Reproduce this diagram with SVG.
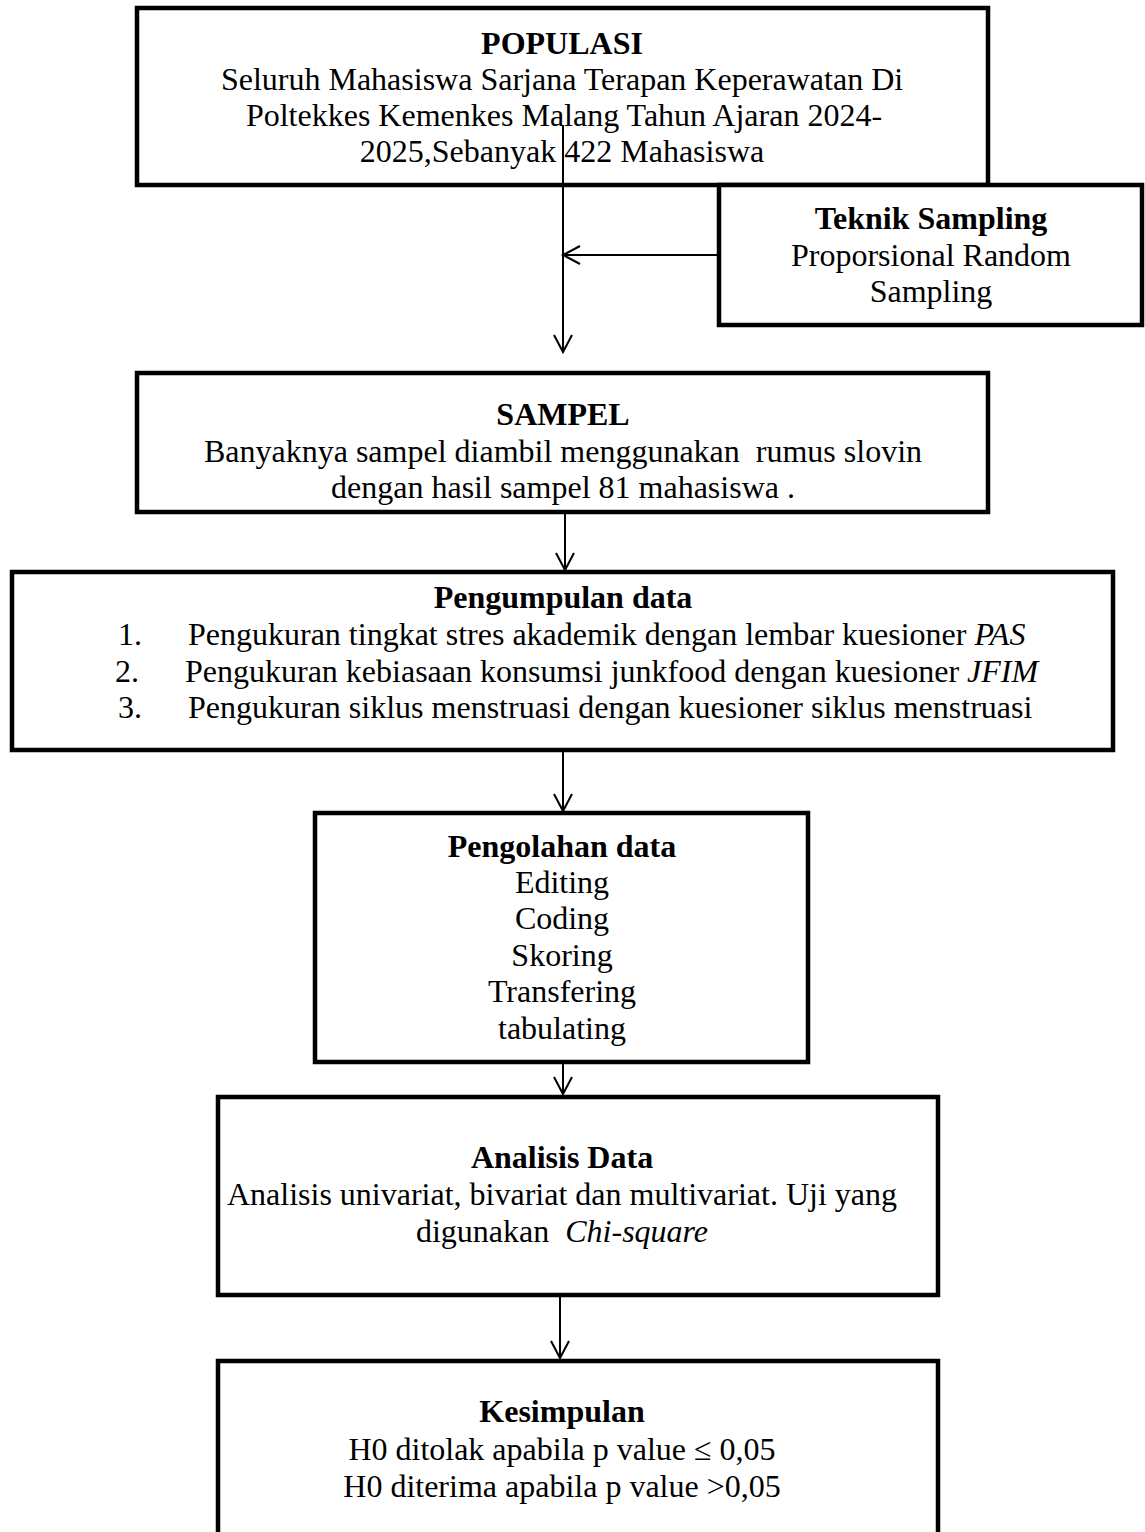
<svg xmlns="http://www.w3.org/2000/svg" width="1145" height="1532" viewBox="0 0 1145 1532">
<style>
.box{fill:#fff;stroke:#000;stroke-width:4.5}
text{font-family:"Liberation Serif","Times New Roman",serif;font-size:32px;fill:#000;white-space:pre}
.c{text-anchor:middle}
.b{font-weight:bold}
.i{font-style:italic}
.con{stroke:#000;stroke-width:2;fill:none}
</style>
<defs>
<marker id="arr" markerUnits="userSpaceOnUse" markerWidth="24" markerHeight="24" viewBox="-20 -12 24 24" refX="0" refY="0" orient="auto">
<path d="M -17 -9 L 0 0 L -17 9" fill="none" stroke="#000" stroke-width="2"/>
</marker>
</defs>
<rect width="1145" height="1532" fill="#fff"/>
<g id="populasi">
<rect class="box" x="137" y="8" width="851" height="177"/>
<text class="c b" x="562" y="54">POPULASI</text>
<text class="c" x="562" y="90">Seluruh Mahasiswa Sarjana Terapan Keperawatan Di</text>
<text class="c" x="564" y="126">Poltekkes Kemenkes Malang Tahun Ajaran 2024-</text>
<text class="c" x="562" y="162">2025,Sebanyak 422 Mahasiswa</text>
</g>
<g id="teknik">
<rect class="box" x="719" y="185" width="423" height="140"/>
<text class="c b" x="931" y="229">Teknik Sampling</text>
<text class="c" x="931" y="266">Proporsional Random</text>
<text class="c" x="931" y="302">Sampling</text>
</g>
<g id="sampel">
<rect class="box" x="137" y="373" width="851" height="139"/>
<text class="c b" x="563" y="425">SAMPEL</text>
<text class="c" x="563" y="462">Banyaknya sampel diambil menggunakan  rumus slovin</text>
<text class="c" x="563" y="498">dengan hasil sampel 81 mahasiswa .</text>
</g>
<g id="pengumpulan">
<rect class="box" x="12" y="572" width="1101" height="178"/>
<text class="c b" x="563" y="608">Pengumpulan data</text>
<text x="118" y="645">1.</text>
<text x="188" y="645">Pengukuran tingkat stres akademik dengan lembar kuesioner <tspan class="i">PAS</tspan></text>
<text x="115" y="682">2.</text>
<text x="185" y="682">Pengukuran kebiasaan konsumsi junkfood dengan kuesioner <tspan class="i">JFIM</tspan></text>
<text x="118" y="718">3.</text>
<text x="188" y="718">Pengukuran siklus menstruasi dengan kuesioner siklus menstruasi</text>
</g>
<g id="pengolahan">
<rect class="box" x="315" y="813" width="493" height="249"/>
<text class="c b" x="562" y="857">Pengolahan data</text>
<text class="c" x="562" y="893">Editing</text>
<text class="c" x="562" y="929">Coding</text>
<text class="c" x="562" y="966">Skoring</text>
<text class="c" x="562" y="1002">Transfering</text>
<text class="c" x="562" y="1039">tabulating</text>
</g>
<g id="analisis">
<rect class="box" x="218" y="1097" width="720" height="198"/>
<text class="c b" x="562" y="1168">Analisis Data</text>
<text class="c" x="562" y="1205">Analisis univariat, bivariat dan multivariat. Uji yang</text>
<text class="c" x="562" y="1242">digunakan  <tspan class="i">Chi-square</tspan></text>
</g>
<g id="kesimpulan">
<rect class="box" x="218" y="1361" width="720" height="200"/>
<text class="c b" x="562" y="1422">Kesimpulan</text>
<text class="c" x="562" y="1460">H0 ditolak apabila p value ≤ 0,05</text>
<text class="c" x="562" y="1497">H0 diterima apabila p value &gt;0,05</text>
</g>
<g id="connectors">
<line class="con" x1="563" y1="125" x2="563" y2="352" marker-end="url(#arr)"/>
<line class="con" x1="719" y1="255" x2="563" y2="255" marker-end="url(#arr)"/>
<line class="con" x1="565" y1="514" x2="565" y2="570" marker-end="url(#arr)"/>
<line class="con" x1="563" y1="752" x2="563" y2="811" marker-end="url(#arr)"/>
<line class="con" x1="563" y1="1064" x2="563" y2="1094" marker-end="url(#arr)"/>
<line class="con" x1="560" y1="1297" x2="560" y2="1358" marker-end="url(#arr)"/>
</g>
</svg>
